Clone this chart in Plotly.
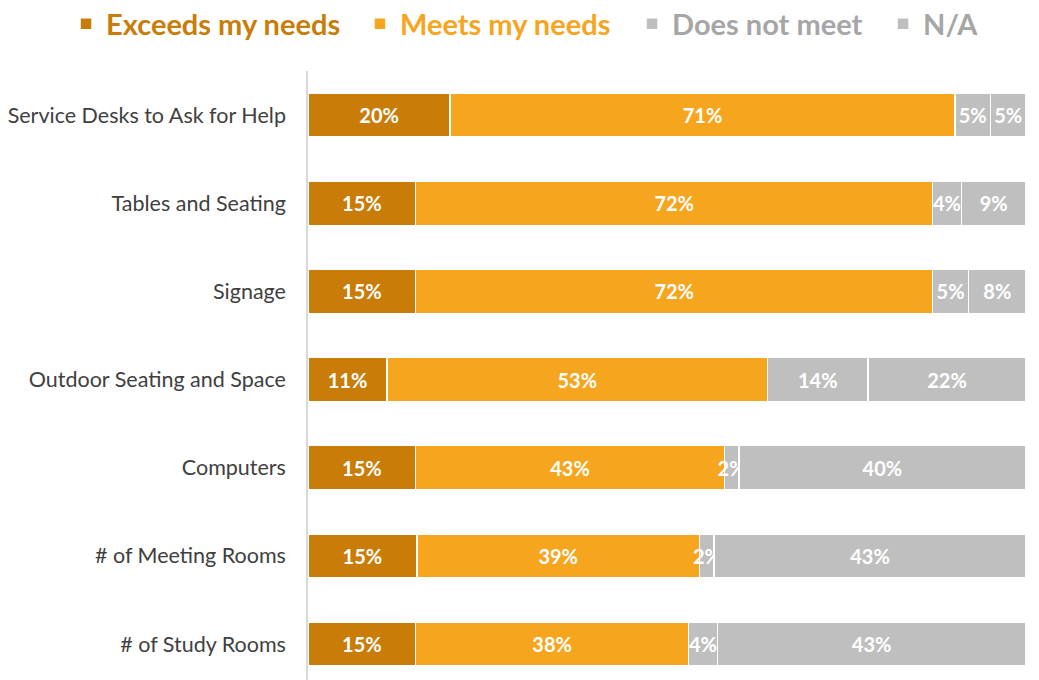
import plotly.graph_objects as go

categories = ["# of Study Rooms", "# of Meeting Rooms", "Computers", "Outdoor Seating and Space",
              "Signage", "Tables and Seating", "Service Desks to Ask for Help"]
exceeds = [15, 15, 15, 11, 15, 15, 20]
meets = [38, 39, 43, 53, 72, 72, 71]
does_not = [4, 2, 2, 14, 5, 4, 5]
na = [43, 43, 40, 22, 8, 9, 5]

series = [
    ("Exceeds my needs", exceeds, "#C97D08", "#C97D08"),
    ("Meets my needs", meets, "#F5A51E", "#F5A51E"),
    ("Does not meet", does_not, "#BFBFBF", "#A6A6A6"),
    ("N/A", na, "#BFBFBF", "#A6A6A6"),
]
legend_x = [-0.3370, 0.0724, 0.4513, 0.8009]

FONT = "Lato"
fig = go.Figure()
legend_layouts = {}
for i, (name, vals, col, tcol) in enumerate(series):
    lname = "legend" if i == 0 else f"legend{i + 1}"
    fig.add_trace(go.Bar(
        y=categories, x=vals, orientation="h",
        name=name, legend=lname,
        marker=dict(color=col, line=dict(color="white", width=1.5)),
        text=[f"{v}%" for v in vals],
        textposition="inside", insidetextanchor="middle", textangle=0,
        textfont=dict(color="white", size=20, family=FONT, weight="bold"),
        cliponaxis=False,
    ))
    legend_layouts[lname] = dict(
        orientation="h", x=legend_x[i], xanchor="left",
        y=1.0772, yanchor="middle", bgcolor="rgba(0,0,0,0)",
        font=dict(size=29, family=FONT, color=tcol, weight="bold"),
        itemwidth=30,
    )

fig.update_layout(
    barmode="stack", barnorm="percent", bargap=0.5,
    width=1031, height=672,
    margin=dict(l=300, r=13, t=63, b=0, autoexpand=False),
    paper_bgcolor="white", plot_bgcolor="white",
    font=dict(family=FONT, color="#404040"),
    uniformtext=dict(minsize=20, mode="show"),
    showlegend=True,
    xaxis=dict(range=[0, 100], visible=False, fixedrange=True),
    yaxis=dict(categoryorder="array", categoryarray=categories, automargin=False,
               range=[-0.407, 6.5], showline=True, linecolor="#D9D9D9", linewidth=1.5,
               showgrid=False, ticks="", ticklabelstandoff=16,
               tickfont=dict(size=21.5, family=FONT, color="#404040")),
    **legend_layouts,
)

fig.write_html("out.html")
